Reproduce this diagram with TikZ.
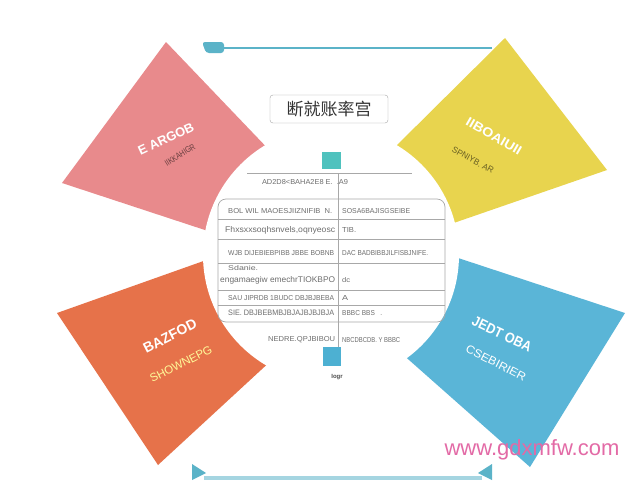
\documentclass[tikz,border=0pt]{standalone}
\usepackage{fontspec}
\setmainfont{Liberation Sans}
\newfontfamily\cjk{Noto Sans CJK SC}
\definecolor{pinkc}{HTML}{E88A8C}
\definecolor{yellowc}{HTML}{E8D44E}
\definecolor{orangec}{HTML}{E6724A}
\definecolor{bluec}{HTML}{5AB5D7}
\definecolor{tealc}{HTML}{4FC2BE}
\definecolor{barc}{HTML}{5BB3C8}
\definecolor{sqblue}{HTML}{4DB0D2}
\definecolor{gridc}{HTML}{A8A8A8}
\definecolor{txtc}{HTML}{6E6E6E}
\definecolor{wmc}{HTML}{E36AA6}
\newcommand\fitw[3]{\resizebox{#1}{#2}{#3}}
\tikzset{
  cell/.style={inner sep=0pt, text=txtc, font=\fontsize{7}{8}\selectfont},
  gline/.style={draw=gridc, line width=0.7pt},
  ttl/.style={inner sep=0pt, text=white, font=\bfseries\fontsize{11}{12}\selectfont},
  sub/.style={inner sep=0pt, font=\fontsize{7}{8}\selectfont}
}
\begin{document}
\begin{tikzpicture}[x=1pt,y=-1pt]
\useasboundingbox (0,0) rectangle (640,480);
\fill[white] (0,0) rectangle (640,480);
% top bar
\fill[barc,rounded corners=3pt] (202,42) -- (224,42) -- (224,53) -- (206,53) -- cycle;
\coordinate (tl) at (224,48);
\coordinate (tr) at (492,48);
\draw[barc,line width=1.8pt] (tl) -- (tr);
% four coloured shapes
\fill[pinkc] (166,42) -- (274,155) -- (300,230) -- (214,233) -- (62,183) -- cycle;
\fill[yellowc] (505,38) -- (607,170) -- (445,226) -- (360,230) -- (388,154) -- cycle;
\fill[orangec] (57,313) -- (212,258) -- (300,300) -- (274,358) -- (158,465) -- cycle;
\fill[bluec] (449,255) -- (625,313) -- (530,467) -- (400,352) -- (370,290) -- cycle;
% central white circle
\fill[white] (331,255) circle (128pt);
% bottom decoration
\fill[barc!55] (204,476) rectangle (482,480);
\fill[barc] (192,464) -- (206,473) -- (192,480) -- cycle;
\fill[barc] (492,464) -- (478,473) -- (492,480) -- cycle;
% title box
\node[draw=gray!70, rounded corners=3pt, fill=white, minimum width=118pt, minimum height=28pt, inner sep=0pt, font=\cjk\fontsize{17}{18}\selectfont, text=black!80] (title) at (329,109) {断就账率宫};
% table
\fill[tealc] (322,152) rectangle (341,169);
\draw[gline] (247,173) -- (412,173);
\draw[gline, rounded corners=8pt] (218,199) rectangle (445,322);
\foreach \yy in {219,239,263,290,305} \draw[gline] (218,\yy) -- (445,\yy);
\draw[gline] (338,173) -- (338,348);
\fill[sqblue] (323,347) rectangle (341,366);
\node[cell] (h) at (305,182) {\fitw{86pt}{5pt}{AD2D8<BAHA2E8 E.\ \ .A9}};
\node[cell, anchor=west] (r1l) at (228,211) {\fitw{104pt}{5pt}{BOL WIL MAOESJIIZNIFIB\ \ N.}};
\node[cell, anchor=west] (r1r) at (342,211) {\fitw{68pt}{5pt}{SOSA6BAJISGSEIBE}};
\node[cell, anchor=west] (r2l) at (225,230) {\fitw{110pt}{6pt}{Fhxsxxsoqhsnvels,oqnyeosc}};
\node[cell, anchor=west] (r2r) at (342,230) {\fitw{14pt}{5pt}{TIB.}};
\node[cell, anchor=west] (r3l) at (228,253) {\fitw{106pt}{5pt}{WJB DIJEBIEBPIBB JBBE BOBNB}};
\node[cell, anchor=west] (r3r) at (342,253) {\fitw{86pt}{5pt}{DAC BADBIBBJILFISBJNIFE.}};
\node[cell, anchor=west] (r4a) at (228,268) {\fitw{30pt}{5pt}{Sdanie.}};
\node[cell, anchor=west] (r4l) at (220,280) {\fitw{115pt}{6pt}{engamaegiw emechrTIOKBPO}};
\node[cell, anchor=west] (r4r) at (342,280) {\fitw{8pt}{5pt}{dc}};
\node[cell, anchor=west] (r5l) at (228,298) {\fitw{106pt}{5pt}{SAU JIPRDB 1BUDC DBJBJBEBA}};
\node[cell, anchor=west] (r5r) at (342,298) {\fitw{6pt}{5pt}{A}};
\node[cell, anchor=west] (r6l) at (228,313) {\fitw{106pt}{5.5pt}{SIE. DBJBEBMBJBJAJBJBJBJA}};
\node[cell, anchor=west] (r6r) at (342,313) {\fitw{40pt}{5pt}{BBBC BBS\ \ \ .}};
\node[cell, anchor=west] (bl) at (268,340) {\fitw{67pt}{5pt}{NEDRE.QPJBIBOU}};
\node[cell, anchor=west] (br) at (342,340) {\fitw{58pt}{5pt}{NBCDBCDB. Y BBBC}};
\node[cell, font=\bfseries\fontsize{6}{7}\selectfont, text=black!70] (lg) at (337,377) {Iogr};
% shape texts
\node[ttl, rotate=25] (pt) at (166,139) {\fitw{60pt}{9pt}{E ARGOB}};
\node[sub, rotate=32, text=black!55!pinkc] (ps) at (180,155) {\fitw{34pt}{6pt}{IIKKAHIGR}};
\node[ttl, rotate=-30] (yt) at (494,136) {\fitw{62pt}{9pt}{IIBOAIUII}};
\node[sub, rotate=-29, text=black!55!yellowc] (ys) at (473,160) {\fitw{46pt}{6pt}{SPNIYB. AR}};
\node[ttl, rotate=27] (ot) at (170,336) {\fitw{58pt}{10pt}{BAZFOD}};
\node[sub, rotate=27, text=yellow!40!white] (os) at (181,364) {\fitw{68pt}{8pt}{SHOWNEPG}};
\node[ttl, rotate=-25] (bt) at (502,334) {\fitw{64pt}{10pt}{JEDT OBA}};
\node[sub, rotate=-27, text=white] (bs) at (496,363) {\fitw{66pt}{8pt}{CSEBIRIER}};
% watermark
\node[inner sep=0pt, anchor=base, text=wmc, font=\fontsize{22}{24}\selectfont] (wm) at (532,455) {www.gdxmfw.com};
\end{tikzpicture}
\end{document}
